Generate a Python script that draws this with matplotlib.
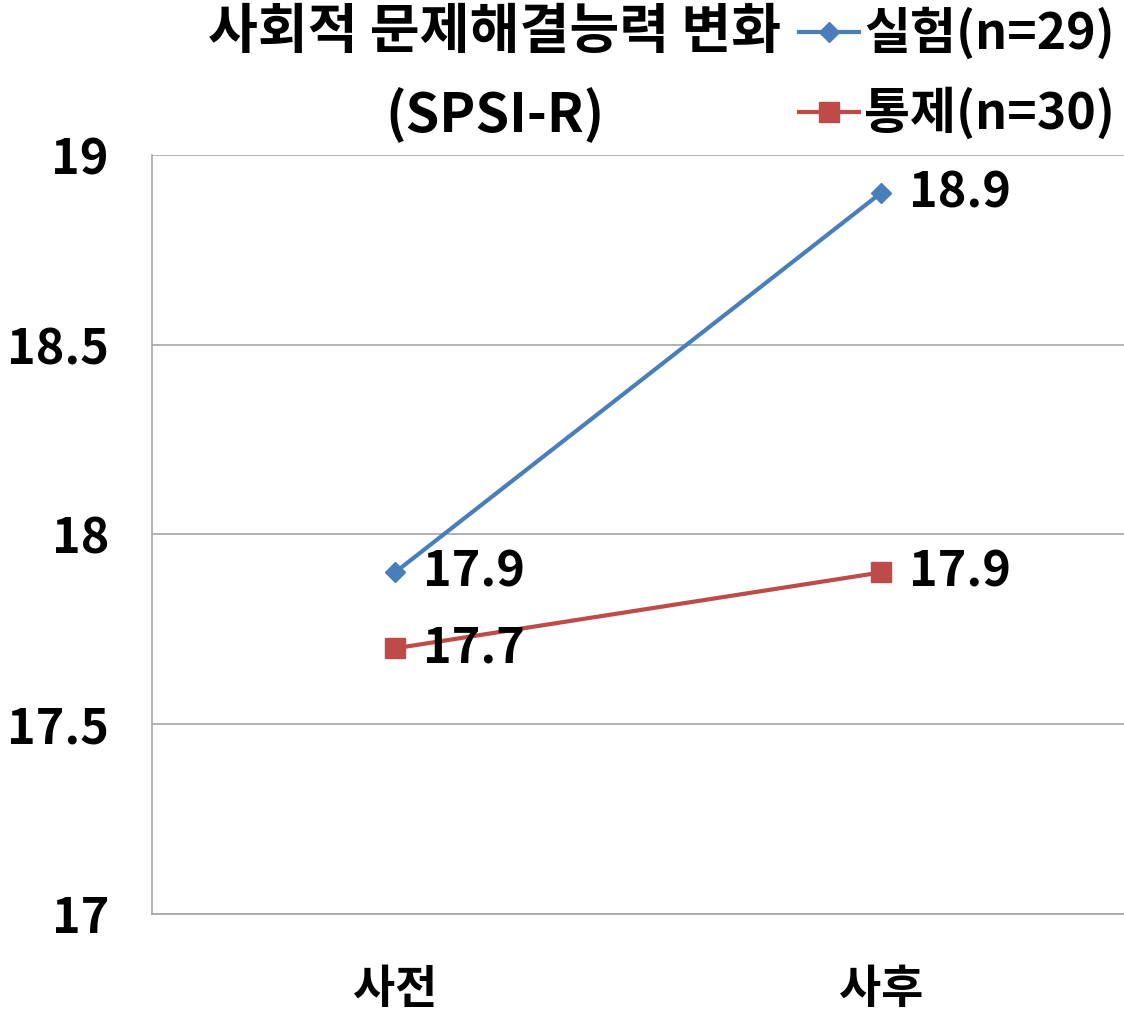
import matplotlib
matplotlib.use("Agg")
import matplotlib.pyplot as plt
from matplotlib.lines import Line2D

plt.rcParams['font.family'] = ['Noto Sans CJK KR', 'DejaVu Sans']

categories = ['사전', '사후']
exp_values = [17.9, 18.9]
ctrl_values = [17.7, 17.9]
exp_label = '실험(n=29)'
ctrl_label = '통제(n=30)'
yticks = [17, 17.5, 18, 18.5, 19]
ytick_labels = ['17', '17.5', '18', '18.5', '19']

blue = '#4A7EBB'
red = '#BE4B48'

fig = plt.figure(figsize=(11.24, 10.17), dpi=100)
ax = fig.add_axes([0.1352, 0.1013, 0.8648, 0.7463])

x = list(range(len(categories)))
ax.plot(x, exp_values, color=blue, lw=3, marker='D', markersize=10, zorder=3)
ax.plot(x, ctrl_values, color=red, lw=3, marker='s', markersize=14, zorder=3)

# 데이터 레이블
for xi, v in zip(x, exp_values):
    ax.annotate(f'{v:.1f}', (xi, v), xytext=(20, 0), textcoords='offset points',
                va='center', ha='left', fontsize=35, fontweight='bold')
for xi, v in zip(x, ctrl_values):
    ax.annotate(f'{v:.1f}', (xi, v), xytext=(20, 0), textcoords='offset points',
                va='center', ha='left', fontsize=35, fontweight='bold')

ax.set_xlim(-0.5, 1.5)
ax.set_ylim(17, 19)
ax.set_yticks(yticks)
ax.set_yticklabels(ytick_labels, fontsize=35, fontweight='bold')
ax.set_xticks(x)
ax.set_xticklabels(categories, fontsize=33, fontweight='bold')
ax.tick_params(axis='both', length=0)
ax.tick_params(axis='y', pad=31)
ax.tick_params(axis='x', pad=38)
ax.grid(axis='y', color='#A6A6A6', lw=1.2)
for side in ['top', 'right']:
    ax.spines[side].set_visible(False)
ax.spines['left'].set_color('#A6A6A6')
ax.spines['bottom'].set_color('#A6A6A6')
ax.spines['left'].set_linewidth(1.2)
ax.spines['bottom'].set_linewidth(1.2)

# 제목
fig.text(0.44, 0.9685, '사회적 문제해결능력 변화', ha='center', va='center',
         fontsize=39, fontweight='bold')
fig.text(0.44, 0.886, '(SPSI-R)', ha='center', va='center',
         fontsize=39, fontweight='bold')

handles = [Line2D([], [], color=blue, lw=3, marker='D', markersize=10),
           Line2D([], [], color=red, lw=3, marker='s', markersize=14)]
fig.legend(handles, [exp_label, ctrl_label], loc='upper right',
           bbox_to_anchor=(1.01, 1.012), borderaxespad=0, frameon=False,
           prop={'size': 36, 'weight': 'bold'}, handlelength=1.2,
           handletextpad=0.1, labelspacing=0.55)

plt.savefig('out.png', dpi=100)
